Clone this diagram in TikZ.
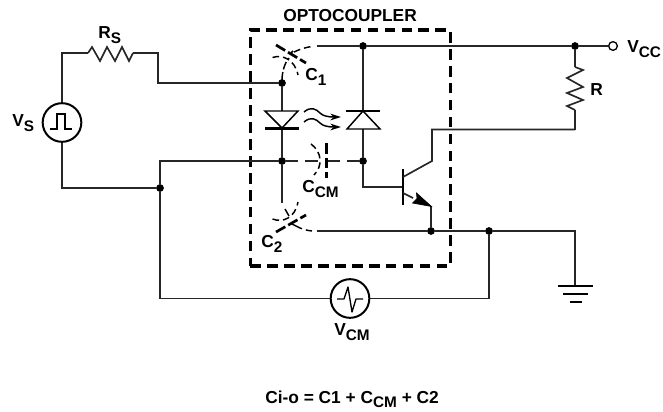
\documentclass[tikz,border=0pt]{standalone}
\usepackage{fontspec}
\setmainfont{Liberation Sans}
\usetikzlibrary{arrows.meta}
\tikzset{
  x=0.75pt,y=-0.75pt,
  wire/.style={line width=1.25pt,draw=black!85},
  junction/.style={circle,fill=black,inner sep=0pt,minimum size=5.8pt},
  openterm/.style={circle,draw=black,fill=white,line width=1pt,inner sep=0pt,minimum size=6.5pt},
  source/.style={circle,draw=black,fill=white,line width=1.5pt,inner sep=0pt,minimum size=29pt},
  label/.style={font=\bfseries\fontsize{13pt}{14pt}\selectfont,inner sep=0pt,anchor=base west},
  plate/.style={line width=2pt,dash pattern=on 8pt off 2.5pt},
  curved/.style={line width=1.1pt,dash pattern=on 5pt off 3pt},
  boxline/.style={line width=2.5pt,dash pattern=on 8pt off 4.7pt},
}
\newcommand{\cs}[2]{#1\raisebox{-3.8pt}{\fontsize{11.5pt}{12pt}\selectfont #2}}
\newcommand{\csb}[2]{#1\raisebox{-3pt}{\fontsize{11.5pt}{12pt}\selectfont #2}}
\begin{document}
\begin{tikzpicture}
\useasboundingbox (0,0) rectangle (663,411);
% package
\node[draw,boxline,minimum width=150pt,minimum height=177pt,inner sep=0pt] (pkg) at (350.3,148) {};
\node[label] (title) at (283,21.7) {OPTOCOUPLER};
% junctions
\node[junction] (j1) at (282,83) {};
\node[junction] (j2) at (282,161) {};
\node[junction] (j3) at (363,46) {};
\node[junction] (j4) at (363,161) {};
\node[junction] (j5) at (575,46) {};
\node[junction] (j6) at (431,231) {};
\node[junction] (j7) at (489,231) {};
\node[junction] (j8) at (160,188) {};
\node[openterm] (vcc) at (613,46) {};
\node[source] (vs) at (62,122.5) {};
\node[source] (vcm) at (350,298.5) {};
\draw[line width=1.2pt] (50,129) -- (57,129) -- (57,114) -- (65,114) -- (65,129) -- (72,129);
\draw[line width=1pt,line join=round] (337,299) -- (344,299) -- (348,287) -- (352,312) -- (356,299) -- (363,299);
% left loop
\coordinate (rsl) at (88,53); \coordinate (rsr) at (133,53);
\draw[wire] (vs.north) |- (rsl);
\draw[wire,line join=miter] (rsl) -- (92,47) -- (100,61) -- (107,47) -- (115,61) -- (122,47) -- (129,61) -- (rsr);
\draw[wire] (rsr) -- (158,53) -- (158,83) -- (j1);
\draw[wire] (vs.south) |- (j8);
\draw[wire] (j8) |- (vcm.west);
\draw[wire] (j8) |- (j2);
\draw[wire] (vcm.east) -| (j7);
\coordinate (railstart) at (317,46);
\draw[wire] (railstart) -- (j3);
\draw[wire] (j3) -- (j5);
\draw[wire] (j5) -- (vcc);
% LED
\coordinate (ledtop) at (282,111);
\coordinate (ledbot) at (282,128);
\draw[wire] (j1) -- (ledtop);
\draw[wire] (ledbot) -- (j2);
\draw[line width=1.1pt] (265,111) -- (298,111) -- (ledbot) -- cycle;
\draw[line width=1.6pt] (265,128.5) -- (299,128.5);
\coordinate (c2top) at (282,203);
\draw[wire] (j2) -- (c2top);
% photodiode
\coordinate (pdtop) at (363,111);
\coordinate (pdbot) at (363,129);
\draw[wire] (j3) -- (pdtop);
\draw[wire] (pdbot) -- (j4);
\draw[line width=1.6pt] (346,111) -- (380,111);
\draw[line width=1.1pt] (pdtop) -- (380,129) -- (347,129) -- cycle;
% light arrows
\draw[line width=1.1pt,-{Stealth[length=8pt,width=5pt]}] (304,112) .. controls (311,106) and (316,109) .. (320,113) .. controls (323,116) and (328,117) .. (341,117);
\draw[line width=1.1pt,-{Stealth[length=8pt,width=5pt]}] (304,122) .. controls (311,116) and (316,119) .. (320,123) .. controls (323,126) and (328,127) .. (341,127);
% CCM
\draw[wire] (j2) -- (298,161);
\draw[wire] (305,161) -- (318,161);
\draw[wire] (327,161) -- (340,161);
\draw[wire] (347,161) -- (j4);
\draw[line width=1.9pt,dash pattern=on 8pt off 3pt] (326.5,143) -- (326.5,178);
\draw[curved] (311,144) .. controls (322,152) and (323,166) .. (314,175);
% transistor
\coordinate (base) at (403,187);
\coordinate (c1) at (432,161);
\coordinate (c2) at (432,129.5);
\coordinate (rbot) at (575,129.5);
\draw[wire] (j4) |- (base);
\draw[line width=1.4pt] (403,169) -- (403,205);
\draw[wire] (403,177) -- (c1) -- (c2) -- (rbot);
\draw[wire] (431,206) -- (j6);
\draw[wire] (403,193) -- (413,198);
\draw[fill=black,draw=black,line width=.5pt] (431.5,206.5) -- (412.5,203) -- (417,198.5) -- (416.5,193) -- cycle;
% R
\coordinate (rt) at (575,67); \coordinate (rb) at (575,110);
\draw[wire] (j5) -- (rt);
\draw[wire,line join=miter] (rt) -- (583,70) -- (567,78) -- (583,87) -- (567,93) -- (583,100) -- (567,106) -- (rb);
\draw[wire] (rb) -- (rbot);
% bottom rail
\coordinate (c2lead) at (317,231);
\coordinate (gnd) at (575,231);
\coordinate (gndbar) at (575,286);
\draw[wire] (c2lead) -- (j6);
\draw[wire] (j6) -- (j7);
\draw[wire] (j7) -- (gnd) -- (gndbar);
\draw[line width=1.4pt] (558,286) -- (593,286);
\draw[line width=1.4pt] (563,294) -- (588,294);
\draw[line width=1.4pt] (570,302) -- (582,302);
% C1
\draw[plate] (276,45) -- (306,63);
\draw[curved] (272.5,57.5) .. controls (283,54) and (295,60) .. (298,75);
\draw[line width=1.1pt,dash pattern=on 6pt off 2pt] (282,80) .. controls (282,72) and (285,62) .. (289,58);
\draw[line width=1.1pt] (291,53) -- (293,51);
\draw[line width=1.1pt,dash pattern=on 5pt off 3pt] (294,52) .. controls (300,49) and (307,47) .. (312,46.5);
% C2
\draw[plate] (276,232) -- (306,215);
\draw[curved] (272.5,219) .. controls (283,223) and (295,218) .. (298,202);
\draw[line width=1.1pt] (285,209) -- (289,216);
\draw[line width=1.1pt] (292,224) -- (296,226);
\draw[line width=1.1pt,dash pattern=on 5pt off 3pt] (296,226) .. controls (301,229) and (307,230.5) .. (312,231);
% labels
\node[label] (lrs) at (98,38) {\cs{R}{S}};
\node[label] (lr) at (590,95.7) {R};
\node[label] (lvs) at (12,126) {\cs{V}{S}};
\node[label] (lvcc) at (627,52) {\cs{V}{CC}};
\node[label] (lc1) at (305,80.7) {\cs{C}{1}};
\node[label] (lccm) at (302,192) {\cs{C}{CM}};
\node[label] (lc2) at (261,247) {\cs{C}{2}};
\node[label] (lvcm) at (334,335) {\cs{V}{CM}};
\node[label] (eq) at (265,403.5) {Ci-o = C1 + \csb{C}{CM} + C2};
\end{tikzpicture}
\end{document}
